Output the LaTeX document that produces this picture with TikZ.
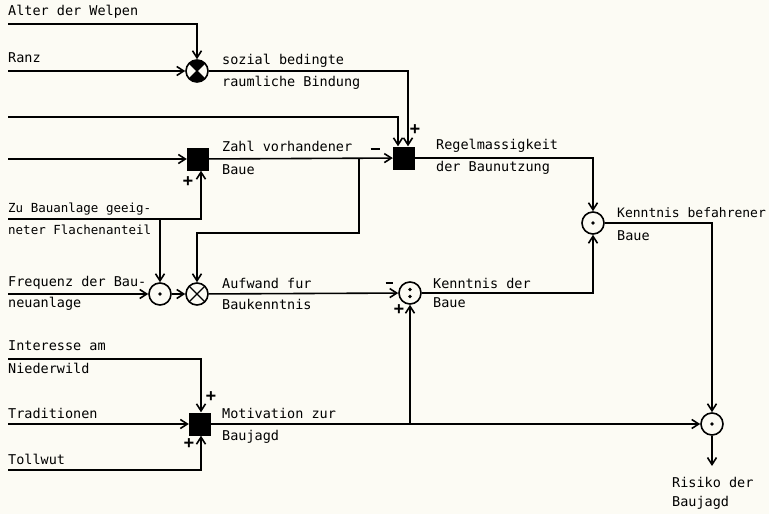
\documentclass[tikz,border=0pt]{standalone}
\usepackage{fontspec}
\setmainfont{DejaVu Sans Mono}
\usetikzlibrary{arrows.meta}

\begin{document}
\begin{tikzpicture}[
    x=1pt, y=-1pt,
    blk/.style={rectangle, fill=black, minimum width=22pt, minimum height=23pt, inner sep=0pt},
    op/.style={circle, draw=black, line width=1.6pt, minimum size=22pt, inner sep=0pt},
    mult/.style={op, path picture={\draw[line width=1.3pt] (path picture bounding box.north west) -- (path picture bounding box.south east) (path picture bounding box.north east) -- (path picture bounding box.south west);}},
    multf/.style={op, path picture={\fill (path picture bounding box.center) -- (path picture bounding box.north west) -- (path picture bounding box.north east) -- cycle (path picture bounding box.center) -- (path picture bounding box.south west) -- (path picture bounding box.south east) -- cycle;
        \draw[line width=1.3pt] (path picture bounding box.north west) -- (path picture bounding box.south east) (path picture bounding box.north east) -- (path picture bounding box.south west);}},
    dotop/.style={op, path picture={\fill (path picture bounding box.center) circle (1.8pt);}},
    divop/.style={op, path picture={\fill ([yshift=3.5pt]path picture bounding box.center) circle (1.8pt) ([yshift=-3.5pt]path picture bounding box.center) circle (1.8pt);}},
    lbl/.style={anchor=west, inner sep=0pt, font=\fontsize{13.5}{16}\selectfont},
    small/.style={font=\fontsize{12.5}{15}\selectfont},
    sgn/.style={inner sep=0pt, font=\fontsize{17}{17}\selectfont\bfseries},
    arr/.style={-{Straight Barb[length=7pt, width=9pt, line width=1.6pt]}, line width=1.6pt}
]
\fill[fill={rgb,255:red,252;green,251;blue,244}] (0,0) rectangle (769,514);
\useasboundingbox (0,0) rectangle (769,514);

% operators
\node[multf] (sozial) at (197,71) {};
\node[blk] (zahl) at (198,159) {};
\node[blk] (regel) at (404,158) {};
\node[dotop] (freq) at (160,294) {};
\node[mult] (aufwand) at (197,294) {};
\node[divop] (kenntnis) at (410,293) {};
\node[dotop] (befahren) at (593,223) {};
\node[blk] (motiv) at (200,424) {};
\node[dotop] (risiko) at (712,424) {};

% labels
\node[lbl] (lAlter) at (8,12) {Alter der Welpen};
\node[lbl] (lRanz) at (8,58) {Ranz};
\node[lbl] (lSoz1) at (222,61) {sozial bedingte};
\node[lbl] (lSoz2) at (222,83) {raumliche Bindung};
\node[lbl] (lZahl1) at (222,146) {Zahl vorhandener};
\node[lbl] (lZahl2) at (222,170) {Baue};
\node[lbl] (lReg1) at (436,146) {Regelmassigkeit};
\node[lbl] (lReg2) at (436,168) {der Baunutzung};
\node[lbl, small] (lZu1) at (8,209) {Zu Bauanlage geeig-};
\node[lbl, small] (lZu2) at (8,230) {neter Flachenanteil};
\node[lbl, font=\fontsize{13}{15}\selectfont] (lBef1) at (617,213) {Kenntnis befahrener};
\node[lbl] (lBef2) at (617,236) {Baue};
\node[lbl] (lFreq1) at (8,283) {Frequenz der Bau-};
\node[lbl] (lFreq2) at (8,304) {neuanlage};
\node[lbl] (lAuf1) at (222,283) {Aufwand fur};
\node[lbl] (lAuf2) at (222,304) {Baukenntnis};
\node[lbl] (lKen1) at (433,283) {Kenntnis der};
\node[lbl] (lKen2) at (433,303) {Baue};
\node[lbl] (lInt1) at (8,346) {Interesse am};
\node[lbl] (lInt2) at (8,368) {Niederwild};
\node[lbl] (lTrad) at (8,413) {Traditionen};
\node[lbl] (lToll) at (8,459) {Tollwut};
\node[lbl] (lMot1) at (222,413) {Motivation zur};
\node[lbl] (lMot2) at (222,437) {Baujagd};
\node[lbl] (lRis1) at (672,482) {Risiko der};
\node[lbl] (lRis2) at (672,503) {Baujagd};

% signs
\node[sgn] (s1) at (415,130) {+};
\node[sgn] (s2) at (375,149) {\rule{9pt}{2pt}};
\node[sgn] (s3) at (188,182) {+};
\node[sgn] (s4) at (389,283) {\rule{7pt}{2pt}};
\node[sgn] (s5) at (399,310) {+};
\node[sgn] (s6) at (211,397) {+};
\node[sgn] (s7) at (189,444) {+};

% free ends
\coordinate (inAlter) at (8,24);
\coordinate (inRanz) at (8,71);
\coordinate (inTop) at (8,117);
\coordinate (inZahl) at (8,159);
\coordinate (inZu) at (8,219);
\coordinate (brZu) at (160,219);
\coordinate (inFreq) at (8,294);
\coordinate (brZahl) at (359,159);
\coordinate (kink) at (359,233);
\coordinate (inInt) at (8,359);
\coordinate (inTrad) at (8,424);
\coordinate (inToll) at (8,470);
\coordinate (brMot) at (410,424);
\coordinate (out) at (712,466);

% connectors
\draw[arr] (inAlter) -| (sozial);
\draw[arr] (inRanz) -- (sozial);
\draw[arr] (sozial) -| ([xshift=4pt]regel.north);
\draw[arr] (inTop) -| ([xshift=-6pt]regel.north);
\draw[arr] (inZahl) -- (zahl);
\draw[arr] (zahl) -- (regel);
\draw[arr] (brZahl) -- (kink) -| (aufwand);
\draw[arr] (inZu) -| ([xshift=3pt]zahl.south);
\draw[arr] (brZu) -- (freq);
\draw[arr] (inFreq) -- (freq);
\draw[arr] (freq) -- (aufwand);
\draw[arr] (aufwand) -- (kenntnis);
\draw[arr] (regel) -| (befahren);
\draw[arr] (kenntnis) -| (befahren);
\draw[arr] (befahren) -| (risiko);
\draw[arr] (risiko) -- (out);
\draw[arr] (inInt) -| ([xshift=1pt]motiv.north);
\draw[arr] (inTrad) -- (motiv);
\draw[arr] (inToll) -| ([xshift=1pt]motiv.south);
\draw[arr] (motiv) -- (risiko);
\draw[arr] (brMot) -- (kenntnis);

\end{tikzpicture}
\end{document}
